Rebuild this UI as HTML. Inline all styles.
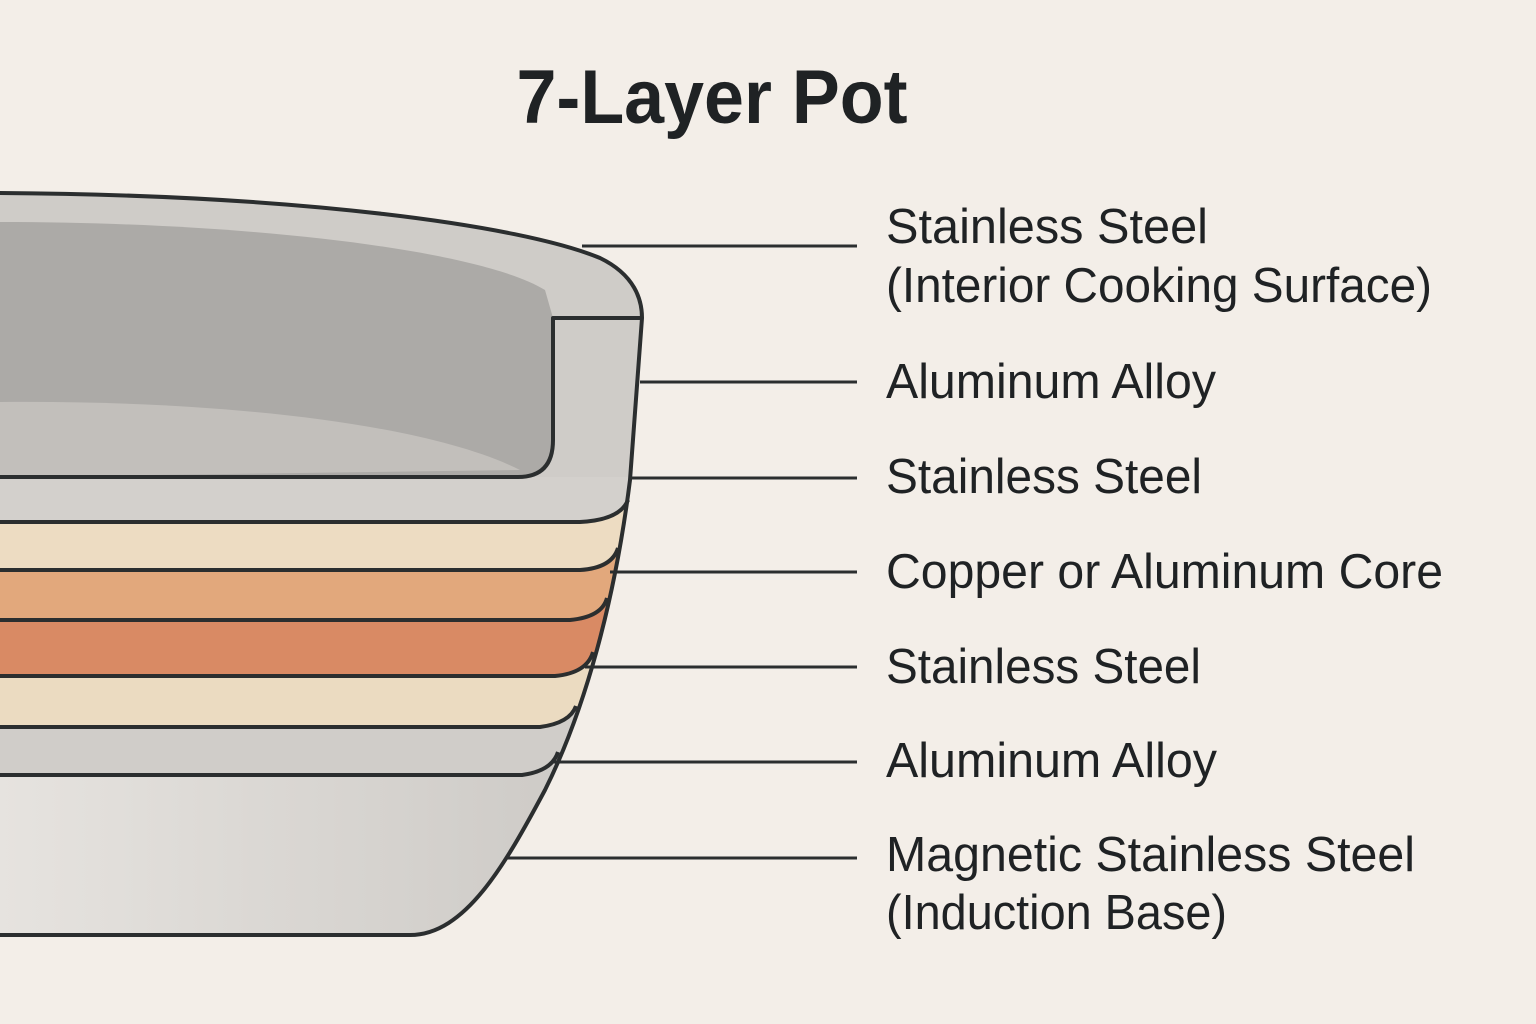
<!DOCTYPE html>
<html><head><meta charset="utf-8"><style>
html,body{margin:0;padding:0;background:#f3eee8;}
svg{display:block}
text{font-family:"Liberation Sans",sans-serif;fill:#1f2224;}
</style></head><body>
<svg width="1536" height="1024" viewBox="0 0 1536 1024" xmlns="http://www.w3.org/2000/svg">
<defs>
<clipPath id="body"><path d="M0,193 C300,195 520,225 600,258 C635,275 642,300 642,318 L630,480 C615,600 585,710 545,790 C505,865 465,935 410,935 L0,935 Z"/></clipPath>
<linearGradient id="bot" x1="0" y1="0" x2="1" y2="0"><stop offset="0" stop-color="#e6e3df"/><stop offset="1" stop-color="#c8c5c1"/></linearGradient>
</defs>
<rect width="1536" height="1024" fill="#f3eee8"/>
<text x="712" y="123" font-size="76" font-weight="bold" text-anchor="middle" textLength="391" lengthAdjust="spacingAndGlyphs">7-Layer Pot</text>
<g clip-path="url(#body)">
 <rect x="0" y="180" width="700" height="300" fill="#cfccc8"/>
 <path d="M0,222 C250,222 480,250 545,290 L553,318 L553,440 Q553,477 520,477 L0,477 Z" fill="#acaaa7"/>
 <path d="M0,402 C200,400 420,420 520,470 L0,477 Z" fill="#c2bfbb"/>
 <path d="M0,477 L700,477 L700,522 L0,522 Z" fill="#d3d0cc"/>
 <path d="M0,522 L580,522 Q620,520 628,500 L700,500 L700,570 L0,570 Z" fill="#eddcc2"/>
 <path d="M0,570 L580,570 Q612,568 618,548 L700,548 L700,620 L0,620 Z" fill="#e2a87c"/>
 <path d="M0,620 L570,620 Q602,617 607,598 L700,598 L700,676 L0,676 Z" fill="#d98a64"/>
 <path d="M0,676 L555,676 Q587,673 593,652 L700,652 L700,727 L0,727 Z" fill="#ebdbc1"/>
 <path d="M0,727 L540,727 Q570,723 576,706 L700,706 L700,775 L0,775 Z" fill="#d0cdc9"/>
 <path d="M0,775 L522,775 Q552,771 558,752 L700,752 L700,935 L0,935 Z" fill="url(#bot)"/>
</g>
<g fill="none" stroke="#2b2e2f" stroke-width="4" stroke-linejoin="round">
 <path d="M0,193 C300,195 520,225 600,258 C635,275 642,300 642,318 L630,480 C615,600 585,710 545,790 C505,865 465,935 410,935 L0,935"/>
 <path d="M642,318 L553,318 L553,440 Q553,477 518,477 L0,477"/>
 <path d="M0,522 L580,522 Q620,520 628,500"/>
 <path d="M0,570 L580,570 Q612,568 618,548"/>
 <path d="M0,620 L570,620 Q602,617 607,598"/>
 <path d="M0,676 L555,676 Q587,673 593,652"/>
 <path d="M0,727 L540,727 Q570,723 576,706"/>
 <path d="M0,775 L522,775 Q552,771 558,752"/>
</g>
<g stroke="#2b2e2f" stroke-width="3">
 <line x1="582" y1="246" x2="857" y2="246"/>
 <line x1="640" y1="382" x2="857" y2="382"/>
 <line x1="630" y1="478" x2="857" y2="478"/>
 <line x1="610" y1="572" x2="857" y2="572"/>
 <line x1="585" y1="667" x2="857" y2="667"/>
 <line x1="552" y1="762" x2="857" y2="762"/>
 <line x1="505" y1="858" x2="857" y2="858"/>
</g>
<g font-size="49">
 <text x="886" y="243" textLength="322" lengthAdjust="spacingAndGlyphs">Stainless Steel</text>
 <text x="886" y="302" textLength="546" lengthAdjust="spacingAndGlyphs">(Interior Cooking Surface)</text>
 <text x="886" y="398" textLength="330" lengthAdjust="spacingAndGlyphs">Aluminum Alloy</text>
 <text x="886" y="493" textLength="316" lengthAdjust="spacingAndGlyphs">Stainless Steel</text>
 <text x="886" y="588" textLength="557" lengthAdjust="spacingAndGlyphs">Copper or Aluminum Core</text>
 <text x="886" y="683" textLength="315" lengthAdjust="spacingAndGlyphs">Stainless Steel</text>
 <text x="886" y="777" textLength="331" lengthAdjust="spacingAndGlyphs">Aluminum Alloy</text>
 <text x="886" y="871" textLength="529" lengthAdjust="spacingAndGlyphs">Magnetic Stainless Steel</text>
 <text x="886" y="929" textLength="341" lengthAdjust="spacingAndGlyphs">(Induction Base)</text>
</g>
</svg>
</body></html>
